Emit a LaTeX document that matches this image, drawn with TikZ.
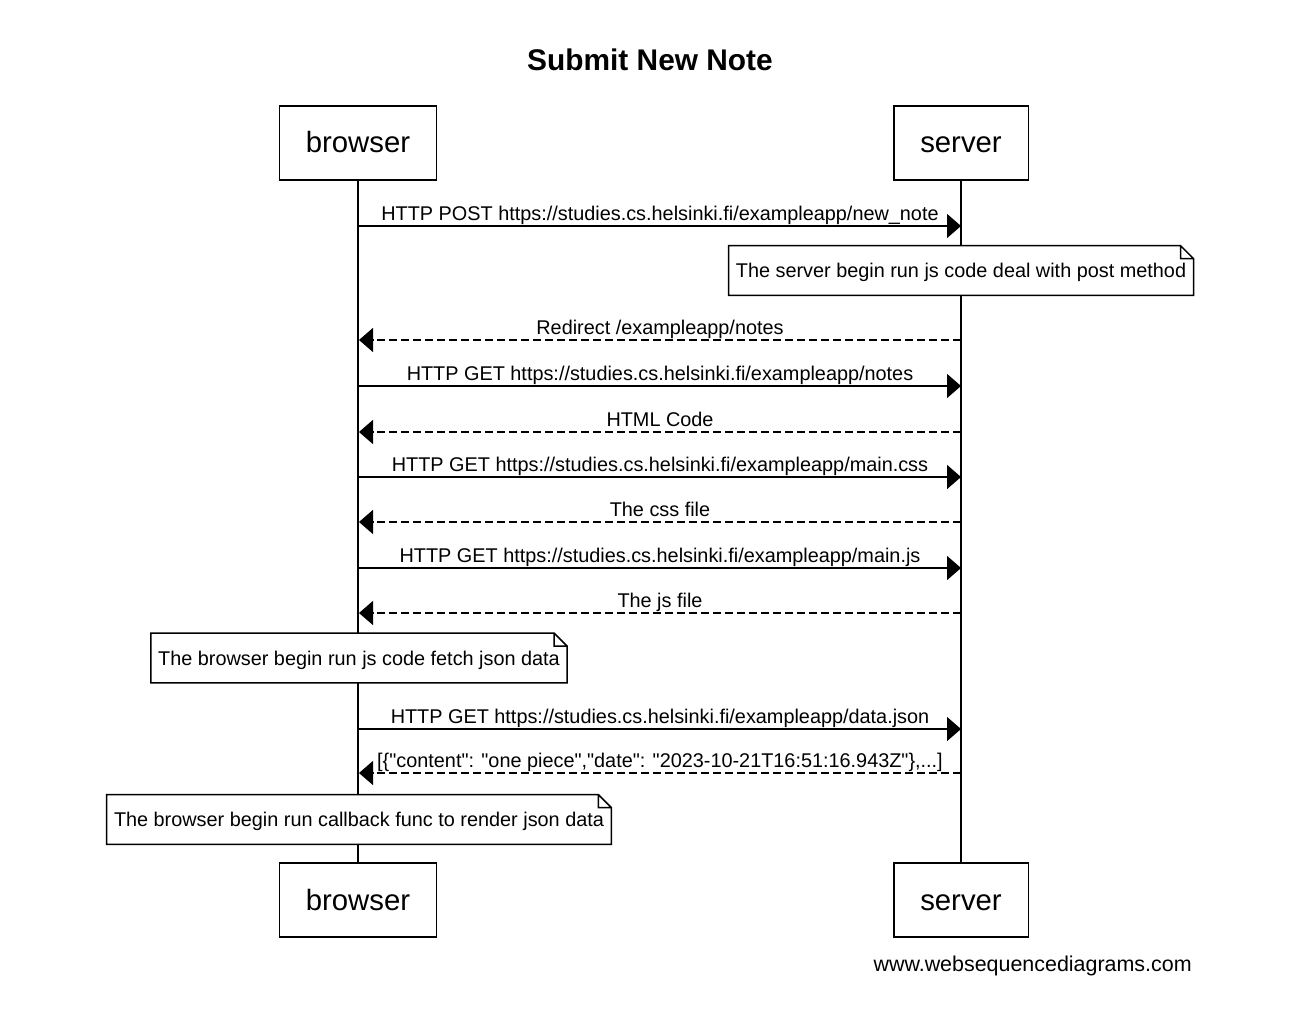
\documentclass[tikz,border=0pt]{standalone}
\usepackage{fontspec}
\newfontfamily\wsdfont{Liberation Sans}
\usepackage{tikz}
\usetikzlibrary{arrows.meta,positioning}
\newcommand{\msgfont}{\wsdfont\fontsize{11.3}{13.5}\selectfont}

\begin{document}
\begin{tikzpicture}[
    x=0.02cm, y=-0.02cm,
    actor/.style={draw, line width=0.03cm, fill=white, minimum height=1.48cm,
      inner xsep=0.53cm, text height=0.42cm, text depth=0.02cm,
      font=\wsdfont\fontsize{16.7}{20}\selectfont},
    note/.style={fill=white, minimum height=0.98cm, inner xsep=0.14cm,
      text height=0.29cm, text depth=0cm, font=\msgfont},
    msg/.style={line width=0.03cm, -{Triangle[length=0.28cm, width=0.48cm]}},
    reply/.style={msg, dash pattern=on 0.16cm off 0.08cm},
    lbl/.style={midway, anchor=base, yshift=0.12cm, font=\msgfont},
    life/.style={line width=0.03cm}
  ]
  \fill[white] (0,0) rectangle (1300,1010);
  \useasboundingbox (0,0) rectangle (1300,1010);

  \node[font=\wsdfont\fontsize{17}{20}\selectfont\bfseries] (title) at (650,60) {Submit New Note};

  % participants
  \node[actor] (bTop) at (358,143) {browser};
  \node[actor] (sTop) at (961,143) {server};
  \node[actor] (bBot) at (358,900) {browser};
  \node[actor] (sBot) at (961,900) {server};
  \draw[life] (bTop) -- (bBot);
  \draw[life] (sTop) -- (sBot);

  % message rows
  \foreach \i/\y in {1/226, 2/340, 3/386, 4/432, 5/477, 6/522, 7/568, 8/613, 9/729, 10/773}
    { \coordinate (b\i) at (359,\y); \coordinate (s\i) at (961,\y); }

  \draw[msg] (b1) -- node[lbl] {HTTP POST https://studies.cs.helsinki.fi/exampleapp/new\_note} (s1);
  \draw[reply] (s2) -- node[lbl] {Redirect /exampleapp/notes} (b2);
  \draw[msg] (b3) -- node[lbl] {HTTP GET https://studies.cs.helsinki.fi/exampleapp/notes} (s3);
  \draw[reply] (s4) -- node[lbl] {HTML Code} (b4);
  \draw[msg] (b5) -- node[lbl] {HTTP GET https://studies.cs.helsinki.fi/exampleapp/main.css} (s5);
  \draw[reply] (s6) -- node[lbl] {The css file} (b6);
  \draw[msg] (b7) -- node[lbl] {HTTP GET https://studies.cs.helsinki.fi/exampleapp/main.js} (s7);
  \draw[reply] (s8) -- node[lbl] {The js file} (b8);
  \draw[msg] (b9) -- node[lbl] {HTTP GET https://studies.cs.helsinki.fi/exampleapp/data.json} (s9);
  \draw[reply] (s10) -- node[lbl] {[\{"content": "one piece","date": "2023-10-21T16:51:16.943Z"\},...]} (b10);

  % notes
  \node[note] (nServer) at (961,270.5) {The server begin run js code deal with post method};
  \node[note] (nFetch) at (359,658) {The browser begin run js code fetch json data};
  \node[note] (nRender) at (359,819.5) {The browser begin run callback func to render json data};
  \foreach \n in {nServer,nFetch,nRender}
    \draw[life, line join=miter]
      (\n.south west) -- (\n.north west) -- ([xshift=-0.26cm]\n.north east)
      -- ([yshift=-0.26cm]\n.north east) -- (\n.south east) -- cycle
      ([xshift=-0.26cm]\n.north east) |- ([yshift=-0.26cm]\n.north east);

  \node[anchor=east, inner sep=0pt, font=\wsdfont\fontsize{12.2}{14}\selectfont] (site) at (1192,966) {www.websequencediagrams.com};
\end{tikzpicture}
\end{document}
